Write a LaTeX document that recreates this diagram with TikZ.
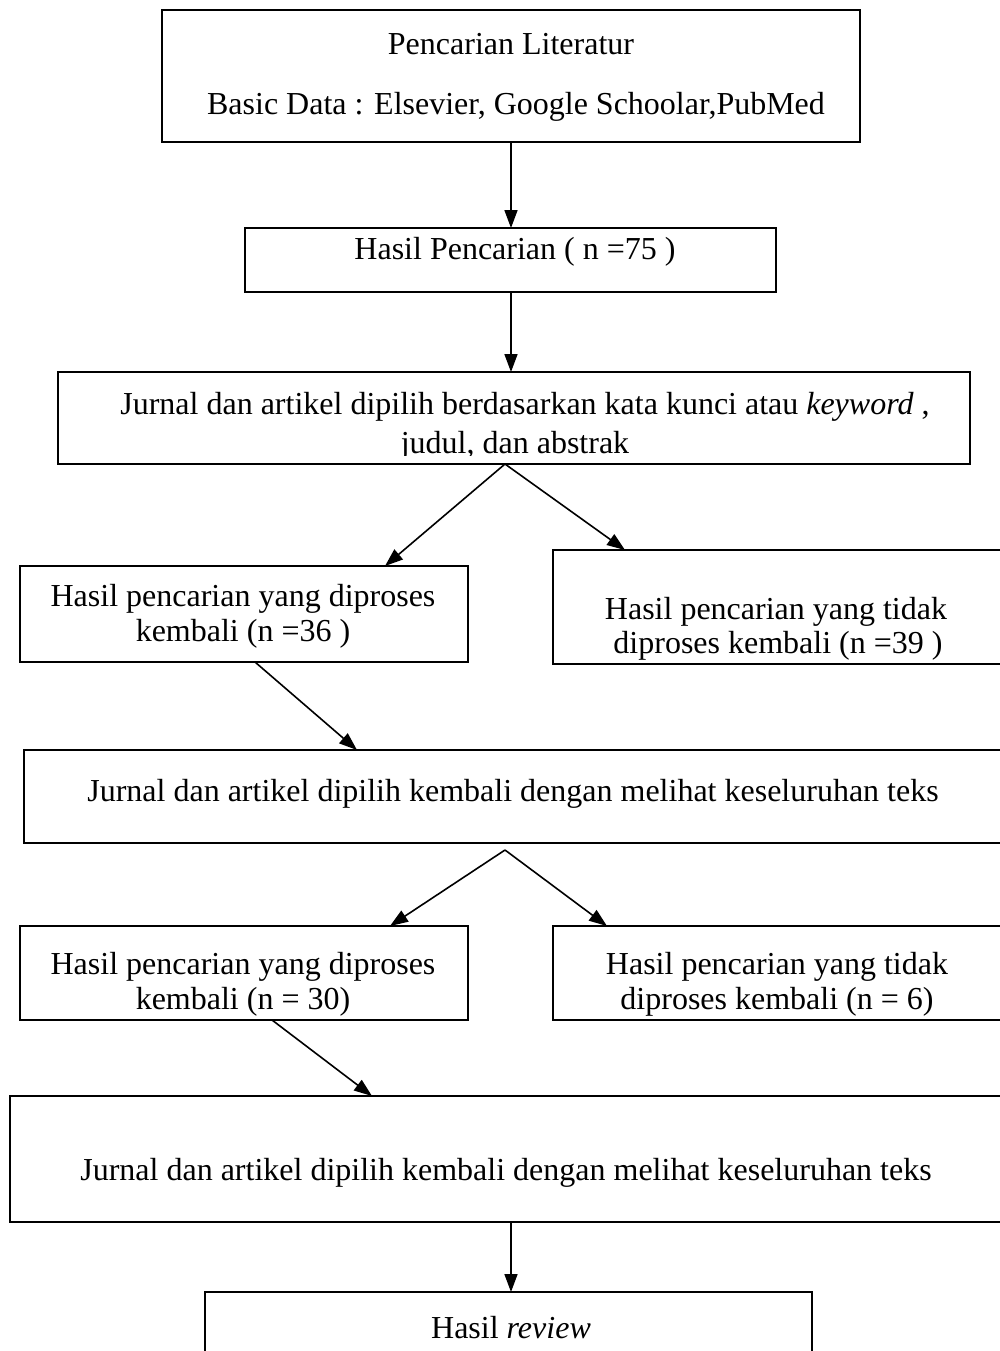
\documentclass[tikz,border=0pt]{standalone}
\usepackage{fontspec}
\setmainfont{Liberation Serif}
\usetikzlibrary{arrows.meta}
\tikzset{
  x=0.5pt, y=-0.5pt,
  box/.style={draw, line width=1pt, rectangle, inner sep=0pt, outer sep=0pt},
  txt/.style={anchor=base, inner sep=0pt, font=\fontsize{16}{19}\selectfont},
  arr/.style={line width=0.8pt, -{Triangle[length=9pt,width=6.5pt]}}
}
\begin{document}
\begin{tikzpicture}
\useasboundingbox (0,0) rectangle (1000,1351);
\clip (0,0) rectangle (1000,1351);
% boxes
\node[box, minimum width=349pt, minimum height=66pt] (b1) at (511,76) {};
\node[box, minimum width=265.5pt, minimum height=32pt] (b2) at (510.5,260) {};
\node[box, minimum width=456pt, minimum height=46pt] (b3) at (514,418) {};
\node[box, minimum width=224pt, minimum height=48pt] (b4a) at (244,614) {};
\node[box, minimum width=228.5pt, minimum height=57pt] (b4b) at (781.5,607) {};
\node[box, minimum width=493pt, minimum height=46.5pt] (b5) at (517,796.5) {};
\node[box, minimum width=224pt, minimum height=47pt] (b6a) at (244,973) {};
\node[box, minimum width=228.5pt, minimum height=47pt] (b6b) at (781.5,973) {};
\node[box, minimum width=500pt, minimum height=63pt] (b7) at (510,1159) {};
\node[box, minimum width=303.5pt, minimum height=34pt] (b8) at (508.5,1326) {};
% texts
\node[txt] (t1a) at (511,54) {Pencarian Literatur};
\node[txt] (t1b) at (516,114) {Basic Data : Elsevier, Google Schoolar,PubMed};
\node[txt] (t2) at (515,259) {Hasil Pencarian ( n =75 )};
\node[txt] (t3a) at (525,414) {Jurnal dan artikel dipilih berdasarkan kata kunci atau \textit{keyword} ,};
\begin{scope}
\clip (58,372) rectangle (970,455);
\node[txt] (t3b) at (515,453) {judul, dan abstrak};
\end{scope}
\node[txt] (t4a1) at (243,606) {Hasil pencarian yang diproses};
\node[txt] (t4a2) at (243,641) {kembali (n =36 )};
\node[txt] (t4b1) at (776,619) {Hasil pencarian yang tidak};
\node[txt] (t4b2) at (778,653) {diproses kembali (n =39 )};
\node[txt] (t5) at (513,801) {Jurnal dan artikel dipilih kembali dengan melihat keseluruhan teks};
\node[txt] (t6a1) at (243,974) {Hasil pencarian yang diproses};
\node[txt] (t6a2) at (243,1009) {kembali (n = 30)};
\node[txt] (t6b1) at (777,974) {Hasil pencarian yang tidak};
\node[txt] (t6b2) at (777,1009) {diproses kembali (n = 6)};
\node[txt] (t7) at (506,1180) {Jurnal dan artikel dipilih kembali dengan melihat keseluruhan teks};
\node[txt] (t8) at (511,1338) {Hasil \textit{review}};
% connectors
\draw[arr] (b1.south) -- (b1.south |- b2.north);
\draw[arr] (b1.south |- b2.south) -- (b1.south |- b3.north);
\draw[arr] ([xshift=-4.5pt]b3.south) -- ([xshift=70.5pt]b4a.north);
\draw[arr] ([xshift=-4.5pt]b3.south) -- ([xshift=-78.25pt]b4b.north);
\draw[arr] ([xshift=5.5pt]b4a.south) -- ([xshift=-80pt]b5.north);
\draw[arr] ([xshift=-6pt,yshift=-3.5pt]b5.south) -- ([xshift=73pt]b6a.north);
\draw[arr] ([xshift=-6pt,yshift=-3.5pt]b5.south) -- ([xshift=-87.25pt]b6b.north);
\draw[arr] ([xshift=14pt]b6a.south) -- ([xshift=-69pt]b7.north);
\draw[arr] (b1.south |- b7.south) -- (b1.south |- b8.north);
\end{tikzpicture}
\end{document}
